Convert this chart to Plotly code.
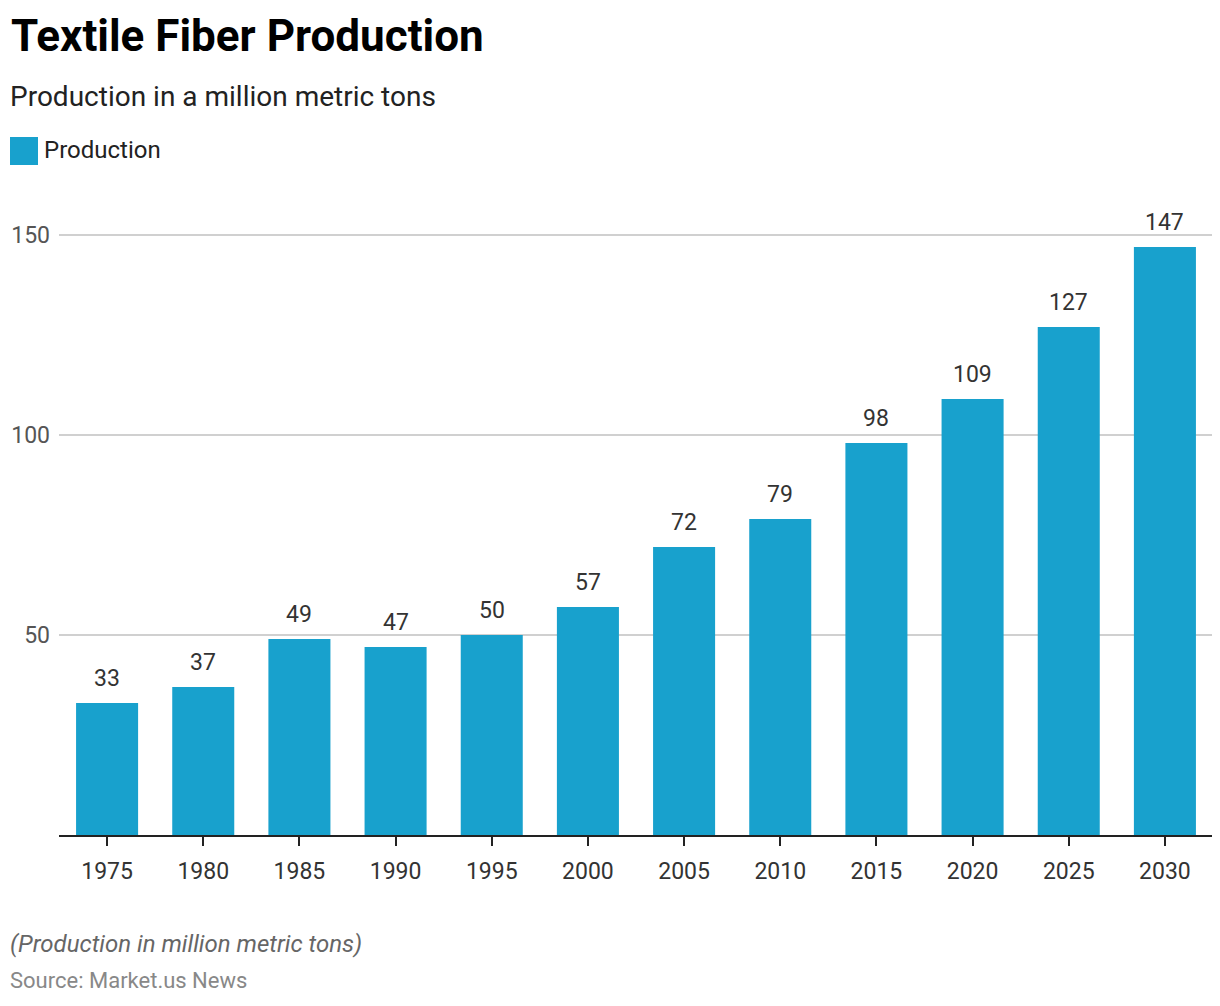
import plotly.graph_objects as go

years = ["1975", "1980", "1985", "1990", "1995", "2000", "2005", "2010", "2015", "2020", "2025", "2030"]
production = [33, 37, 49, 47, 50, 57, 72, 79, 98, 109, 127, 147]
y_ticks = [50, 100, 150]

BAR = "#18a1cd"
OFF = 8  # page offset of the figure
W, H = 1220 - OFF, 1006 - OFF
L, R, T, B = 59 - OFF, 7, 215 - OFF, 171
PH = H - T - B

def py(p):
    return (H - B - (p - OFF)) / PH

def px(p):
    return ((p - OFF) - L) / (W - L - R)

fig = go.Figure()
fig.add_trace(go.Bar(
    x=years, y=production, name="Production",
    marker=dict(color=BAR, line=dict(width=0)),
    showlegend=False,
))

for i, v in enumerate(production):
    fig.add_annotation(
        x=i, y=v, xref="x", yref="y", text=str(v), showarrow=False,
        yanchor="middle", yshift=25,
        font=dict(family="Roboto", size=23, color="#333333"),
    )

fig.update_layout(
    width=W, height=H,
    margin=dict(l=L, r=R, t=T, b=B, autoexpand=False),
    plot_bgcolor="white", paper_bgcolor="white",
    bargap=0.355,
    font=dict(family="Roboto", color="#333333"),
    xaxis=dict(
        type="category", showgrid=False, showline=True, linecolor="#222222", linewidth=2,
        ticks="outside", ticklen=9, tickwidth=2, tickcolor="#222222",
        tickfont=dict(family="Roboto", size=23, color="#333333"),
        ticklabelstandoff=5, automargin=False,
        range=[-0.5, len(years) - 0.5],
    ),
    yaxis=dict(
        range=[0, 155], tickvals=y_ticks, showgrid=True, gridcolor="#d0d0d0", gridwidth=1.5,
        zeroline=False, showline=False, ticks="", ticklabelstandoff=8, automargin=False,
        tickfont=dict(family="Roboto", size=23, color="#555555"),
    ),
    showlegend=False,
)

anns = [
    dict(text="<b>Textile Fiber Production</b>", x=px(9), y=py(36), size=44, color="#000000"),
    dict(text="Production in a million metric tons", x=px(8), y=py(97), size=28, color="#222222"),
    dict(text="Production", x=px(42), y=py(150), size=24, color="#222222"),
    dict(text="<i>(Production in million metric tons)</i>", x=px(8), y=py(944), size=24, color="#666666"),
    dict(text="Source: Market.us News", x=px(8), y=py(980), size=22, color="#888888"),
]
for a in anns:
    fig.add_annotation(
        text=a["text"], x=a["x"], y=a["y"], xref="paper", yref="paper",
        xanchor="left", yanchor="middle", showarrow=False,
        font=dict(family="Roboto", size=a["size"], color=a["color"]),
    )

fig.add_shape(type="rect", xref="paper", yref="paper",
              x0=px(10), x1=px(38), y0=py(165), y1=py(137),
              fillcolor=BAR, line=dict(width=0))

fig.write_html("out.html")
